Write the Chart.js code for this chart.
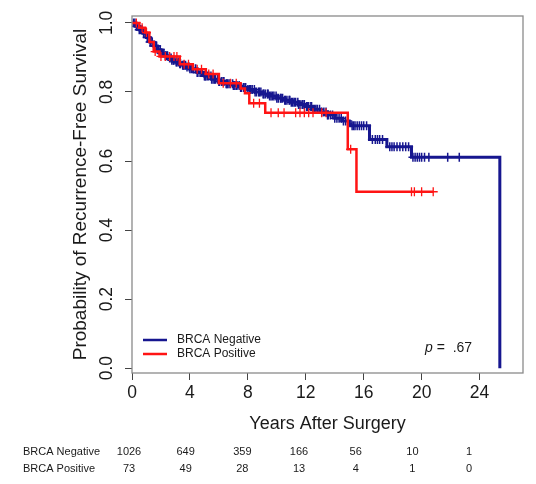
<!DOCTYPE html>
<html>
<head>
<meta charset="utf-8">
<script src="https://cdn.jsdelivr.net/npm/chart.js@4.4.1/dist/chart.umd.min.js"></script>
<style>
  html, body { margin: 0; padding: 0; background: #fff; }
  canvas { display: block; }
</style>
</head>
<body>
<canvas id="km" width="536" height="484"></canvas>
<script>
// Kaplan-Meier curves (years, survival after each drop)
const negTimes = [0, 0.25, 0.5, 0.75, 1.0, 1.25, 1.5, 1.75, 2.0, 2.25, 2.5, 2.75, 3.0, 3.25, 3.5, 3.75, 4.0,
  4.5, 5.0, 5.5, 6.0, 6.5, 7.0, 7.5, 8.0, 8.5, 9.0, 9.5, 10.0, 10.5, 11.0, 11.5, 12.0, 12.5, 13.0, 13.5,
  14.0, 14.5, 15.0, 15.1, 16.4, 17.6, 19.3, 25.4];
const negSurv = [1.0, 0.99, 0.98, 0.97, 0.958, 0.945, 0.933, 0.922, 0.913, 0.905, 0.898, 0.892, 0.887, 0.882,
  0.877, 0.872, 0.867, 0.856, 0.846, 0.837, 0.83, 0.824, 0.819, 0.813, 0.807, 0.80, 0.794, 0.788, 0.782,
  0.776, 0.77, 0.764, 0.758, 0.75, 0.742, 0.733, 0.724, 0.716, 0.708, 0.702, 0.662, 0.641, 0.611, 0.0];
const negCensor = [0.1, 0.2, 0.3, 0.35, 0.5, 0.6, 0.7, 0.8, 0.9, 0.95, 1.05, 1.1, 1.25, 1.3, 1.4, 1.5, 1.6,
  1.7, 1.8, 1.85, 1.95, 2.0, 2.1, 2.2, 2.3, 2.4, 2.45, 2.6, 2.7, 2.75, 2.85, 2.9, 3.05, 3.1, 3.2, 3.3,
  3.35, 3.5, 3.55, 3.6, 3.7, 3.8, 3.95, 4.0, 4.1, 4.2, 4.25, 4.4, 4.5, 4.55, 4.7, 4.8, 4.85, 5.0, 5.05,
  5.1, 5.2, 5.3, 5.45, 5.5, 5.6, 5.7, 5.75, 5.9, 6.0, 6.05, 6.2, 6.3, 6.35, 6.5, 6.55, 6.6, 6.7, 6.8,
  6.95, 7.0, 7.1, 7.2, 7.25, 7.4, 7.5, 7.55, 7.7, 7.8, 7.85, 8.0, 8.1, 8.2, 8.3, 8.45, 8.5, 8.6, 8.75,
  8.8, 8.9, 9.05, 9.1, 9.2, 9.35, 9.4, 9.5, 9.6, 9.7, 9.8, 9.95, 10.0, 10.1, 10.25, 10.3, 10.4, 10.55,
  10.6, 10.7, 10.85, 10.9, 11.0, 11.1, 11.2, 11.3, 11.45, 11.5, 11.6, 11.75, 11.8, 11.9, 12.05, 12.1,
  12.2, 12.35, 12.4, 12.5, 12.6, 12.7, 12.8, 12.95, 13.1, 13.25, 13.4, 13.5, 13.55, 13.7, 13.85, 14.0,
  14.15, 14.3, 14.45, 14.6, 14.75, 14.9, 15.2, 15.3, 15.4, 15.55, 15.7, 15.85, 16.0, 16.2, 16.6, 16.8,
  16.95, 17.1, 17.3, 17.8, 17.95, 18.1, 18.3, 18.5, 18.7, 18.9, 19.1, 19.4, 19.55, 19.7, 19.85, 20.0,
  20.2, 20.5, 21.8, 22.6];

const posTimes = [0, 0.5, 0.9, 1.2, 1.5, 1.9, 3.3, 4.2, 5.1, 6.0, 7.5, 7.8, 8.1, 9.2, 14.9, 15.5, 20.8];
const posSurv = [1.0, 0.986, 0.972, 0.945, 0.917, 0.903, 0.88, 0.866, 0.852, 0.825, 0.81, 0.796, 0.767,
  0.74, 0.634, 0.511, 0.511];
const posCensor = [0.3, 0.7, 1.0, 1.6, 2.0, 2.3, 2.6, 2.9, 3.1, 3.6, 3.9, 4.5, 4.8, 5.3, 5.6, 6.3, 6.8,
  7.2, 8.4, 8.8, 9.6, 10.1, 10.5, 11.3, 11.6, 11.9, 12.2, 12.5, 13.1, 13.4, 15.1, 19.3, 19.5, 20.0, 20.8];

const xTicks = [0, 4, 8, 12, 16, 20, 24];
const yTicks = [0.0, 0.2, 0.4, 0.6, 0.8, 1.0];

// number at risk table
const riskTimes = [0, 4, 8, 12, 16, 20, 24];
const riskNeg = [1026, 649, 359, 166, 56, 10, 1];
const riskPos = [73, 49, 28, 13, 4, 1, 0];

const BLUE = "#16168f";
const RED = "#ff1414";
const FONT = "'Liberation Sans', Arial, sans-serif";

function survAt(times, surv, t) {
    let s = surv[0];
    for (let i = 0; i < times.length; i++) {
        if (times[i] <= t) s = surv[i];
    }
    return s;
}

const toPts = (xs, ys) => xs.map((x, i) => ({ x: x, y: ys[i] }));
const censorPts = (cs, times, surv) => cs.map((t) => ({ x: t, y: survAt(times, surv, t) }));

// box, rotated y labels, titles, legend, risk table
const decorations = {
    id: "decorations",
    afterDraw(chart) {
        const { ctx, chartArea: a } = chart;
        const xs = chart.scales.x, ys = chart.scales.y;
        ctx.save();
        ctx.strokeStyle = "#8a8a8a";
        ctx.lineWidth = 1.3;
        ctx.strokeRect(a.left, a.top, a.right - a.left, a.bottom - a.top);

        ctx.fillStyle = "#1a1a1a";
        ctx.font = "17.5px " + FONT;
        ctx.textAlign = "center";
        ctx.textBaseline = "middle";
        xTicks.forEach((v) => ctx.fillText(String(v), xs.getPixelForValue(v), 393));
        yTicks.forEach((v) => {
            ctx.save();
            ctx.translate(107, ys.getPixelForValue(v));
            ctx.rotate(-Math.PI / 2);
            ctx.fillText(v.toFixed(1), 0, 0);
            ctx.restore();
        });

        ctx.font = "18px " + FONT;
        ctx.fillText("Years After Surgery", (a.left + a.right) / 2, 424);
        ctx.save();
        ctx.font = "19px " + FONT;
        ctx.translate(81, (a.top + a.bottom) / 2);
        ctx.rotate(-Math.PI / 2);
        ctx.fillText("Probability of Recurrence-Free Survival", 0, 0);
        ctx.restore();

        // legend
        ctx.lineWidth = 2.5;
        [["BRCA Negative", BLUE, 340], ["BRCA Positive", RED, 354]].forEach(([label, col, y]) => {
            ctx.strokeStyle = col;
            ctx.beginPath();
            ctx.moveTo(143, y);
            ctx.lineTo(167, y);
            ctx.stroke();
            ctx.textAlign = "left";
            ctx.font = "12px " + FONT;
            ctx.fillText(label, 177, y);
        });

        // p value
        ctx.font = "italic 14px " + FONT;
        ctx.fillText("p", 425, 348);
        const pw = ctx.measureText("p").width;
        ctx.font = "14px " + FONT;
        ctx.fillText(" =  .67", 425 + pw, 348);

        // numbers at risk
        ctx.font = "11px " + FONT;
        ctx.textAlign = "left";
        ctx.fillText("BRCA Negative", 23, 452);
        ctx.fillText("BRCA Positive", 23, 469);
        ctx.textAlign = "center";
        riskTimes.forEach((t, i) => {
            const x = 129 + t * 14.17;
            ctx.fillText(String(riskNeg[i]), x, 452);
            ctx.fillText(String(riskPos[i]), x, 469);
        });
        ctx.restore();
    },
};

new Chart(document.getElementById("km"), {
    type: "scatter",
    data: {
        datasets: [
            {
                label: "BRCA Positive",
                data: toPts(posTimes, posSurv),
                showLine: true,
                stepped: true,
                borderColor: RED,
                borderWidth: 2.5,
                pointRadius: 0,
                order: 0,
            },
            {
                label: "BRCA Positive censored",
                data: censorPts(posCensor, posTimes, posSurv),
                showLine: false,
                pointStyle: "cross",
                pointRadius: 4.5,
                borderColor: RED,
                borderWidth: 1.3,
                order: 1,
            },
            {
                label: "BRCA Negative",
                data: toPts(negTimes, negSurv),
                showLine: true,
                stepped: true,
                borderColor: BLUE,
                borderWidth: 3,
                pointRadius: 0,
                order: 2,
            },
            {
                label: "BRCA Negative censored",
                data: censorPts(negCensor, negTimes, negSurv),
                showLine: false,
                pointStyle: "cross",
                pointRadius: 4.5,
                borderColor: BLUE,
                borderWidth: 1.5,
                order: 3,
            },
        ],
    },
    options: {
        responsive: false,
        animation: false,
        devicePixelRatio: 1,
        layout: { padding: { top: 16, right: 13, left: 0, bottom: 0 } },
        plugins: { legend: { display: false }, tooltip: { enabled: false } },
        scales: {
            x: {
                type: "linear",
                min: 0,
                max: 27,
                afterBuildTicks: (s) => { s.ticks = xTicks.map((v) => ({ value: v })); },
                afterFit: (s) => { s.height = 111; },
                ticks: { display: false },
                grid: { drawOnChartArea: false, drawTicks: true, tickLength: 7, color: "#444", lineWidth: 1 },
                border: { display: false },
            },
            y: {
                type: "linear",
                min: -0.014,
                max: 1.02,
                afterBuildTicks: (s) => { s.ticks = yTicks.map((v) => ({ value: v })); },
                afterFit: (s) => { s.width = 132; },
                ticks: { display: false },
                grid: { drawOnChartArea: false, drawTicks: true, tickLength: 7, color: "#444", lineWidth: 1 },
                border: { display: false },
            },
        },
    },
    plugins: [decorations],
});
</script>
</body>
</html>
